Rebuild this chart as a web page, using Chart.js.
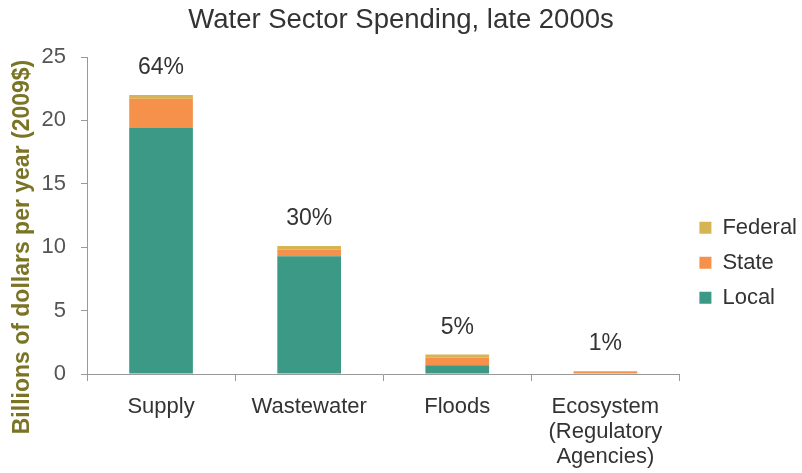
<!DOCTYPE html>
<html>
<head>
<meta charset="utf-8">
<script src="https://cdn.jsdelivr.net/npm/chart.js@4"></script>
<style>
  html, body { margin: 0; padding: 0; background: #fff; }
  #wrap { width: 802px; height: 473px; }
</style>
</head>
<body>
<div id="wrap"><canvas id="spendingChart"></canvas></div>
<script>
// categories and values (billions of dollars per year, 2009$)
const categories = ['Supply', 'Wastewater', 'Floods', ['Ecosystem', '(Regulatory', 'Agencies)']];
const localSpend = [19.4, 9.3, 0.7, 0.05];
const stateSpend = [2.3, 0.5, 0.6, 0.15];
const federalSpend = [0.3, 0.3, 0.25, 0.05];
const shareLabels = ['64%', '30%', '5%', '1%'];
const yTicks = [0, 5, 10, 15, 20, 25];
const yAxisTitle = 'Billions of dollars per year (2009$)';

const FONT = "'Liberation Sans', Arial, sans-serif";

// percentage text above each stacked bar
const shareLabelPlugin = {
    id: 'shareLabels',
    afterDatasetsDraw(chart) {
        const ctx = chart.ctx;
        const yScale = chart.scales.y;
        const meta = chart.getDatasetMeta(0);
        ctx.save();
        ctx.font = '23px ' + FONT;
        ctx.fillStyle = '#333';
        ctx.textAlign = 'center';
        ctx.textBaseline = 'middle';
        meta.data.forEach((bar, i) => {
            const total = localSpend[i] + stateSpend[i] + federalSpend[i];
            const y = yScale.getPixelForValue(total) - 27;
            ctx.fillText(shareLabels[i], bar.x, y);
        });
        ctx.restore();
    }
};

// y axis title, sits a bit lower than the plot centre like the original
const yTitlePlugin = {
    id: 'yTitle',
    afterDraw(chart) {
        const ctx = chart.ctx;
        ctx.save();
        ctx.translate(23, 247);
        ctx.rotate(-Math.PI / 2);
        ctx.font = 'bold 23px ' + FONT;
        ctx.fillStyle = '#7a7424';
        ctx.textAlign = 'center';
        ctx.textBaseline = 'middle';
        ctx.fillText(yAxisTitle, 0, 0);
        ctx.restore();
    }
};

const ctx = document.getElementById('spendingChart').getContext('2d');
new Chart(ctx, {
    type: 'bar',
    data: {
        labels: categories,
        datasets: [
            { label: 'Local', data: localSpend, backgroundColor: '#3b9985' },
            { label: 'State', data: stateSpend, backgroundColor: '#f6914b' },
            { label: 'Federal', data: federalSpend, backgroundColor: '#d6b452' }
        ]
    },
    options: {
        responsive: true,
        maintainAspectRatio: false,
        animation: false,
        datasets: {
            bar: { barPercentage: 0.43, categoryPercentage: 1.0 }
        },
        layout: { padding: { left: -5, right: -5, top: 0, bottom: -10 } },
        plugins: {
            title: {
                display: true,
                text: 'Water Sector Spending, late 2000s',
                color: '#333',
                font: { family: FONT, size: 27.5, weight: 'normal' },
                padding: { top: 4, bottom: 20 }
            },
            legend: {
                position: 'right',
                reverse: true,
                title: {
                    display: true,
                    text: ' ',
                    font: { size: 2 },
                    padding: { top: 0, bottom: 40 }
                },
                labels: {
                    boxWidth: 12,
                    boxHeight: 12,
                    padding: 13,
                    color: '#333',
                    font: { family: FONT, size: 22 }
                }
            },
            tooltip: { enabled: false }
        },
        scales: {
            x: {
                stacked: true,
                grid: {
                    offset: true,
                    drawOnChartArea: false,
                    drawTicks: true,
                    tickLength: 7,
                    color: '#999'
                },
                border: { color: '#999' },
                ticks: {
                    color: '#333',
                    font: { family: FONT, size: 22, lineHeight: 1.12 },
                    maxRotation: 0,
                    padding: 14
                }
            },
            y: {
                stacked: true,
                min: 0,
                max: 25,
                afterBuildTicks(axis) {
                    axis.ticks = yTicks.map(v => ({ value: v }));
                },
                afterFit(axis) {
                    axis.width = 92;  // room for the y title drawn by the plugin
                },
                grid: {
                    drawOnChartArea: false,
                    drawTicks: true,
                    tickLength: 6,
                    color: '#999'
                },
                border: { color: '#999' },
                ticks: {
                    color: '#555',
                    font: { family: FONT, size: 22 },
                    padding: 15
                }
            },
            // empty spacer between plot and legend
            gap: {
                type: 'linear',
                position: 'right',
                display: true,
                grid: { display: false },
                border: { display: false },
                ticks: { display: false },
                afterFit(axis) {
                    axis.width = 7;
                }
            }
        }
    },
    plugins: [shareLabelPlugin, yTitlePlugin]
});
</script>
</body>
</html>
